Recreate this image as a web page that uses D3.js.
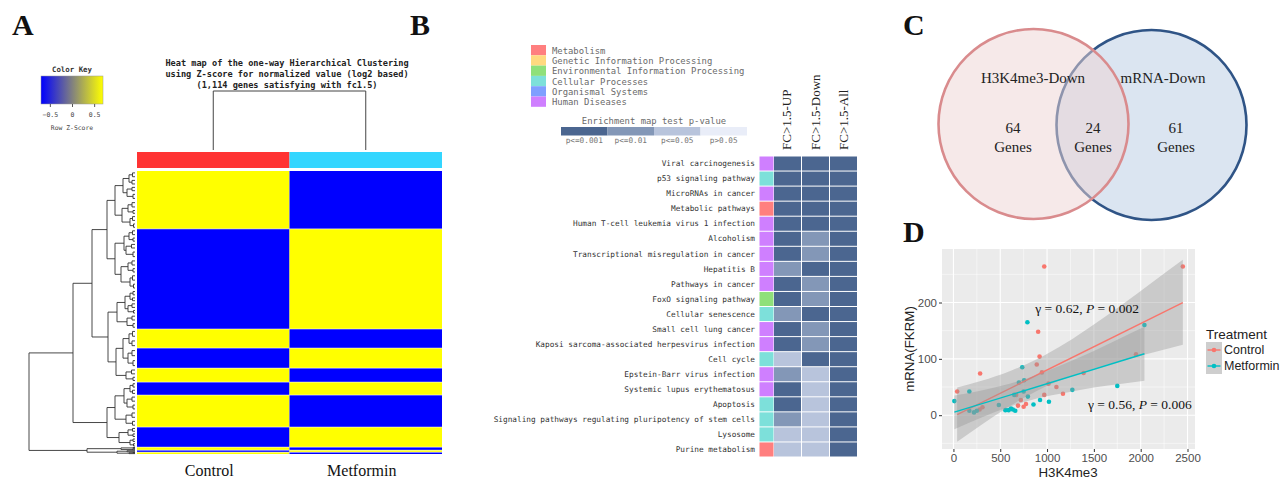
<!DOCTYPE html>
<html lang="en">
<head>
<meta charset="UTF-8">
<title>H3K4me3 / metformin figure</title>
<script src="https://d3js.org/d3.v7.min.js"></script>
<style>
  body { margin: 0; background: #fff; }
  svg { display: block; }
  .mono { font-family: "DejaVu Sans Mono", monospace; }
  .serif { font-family: "Liberation Serif", "Times New Roman", serif; }
  .sans { font-family: "Liberation Sans", Arial, sans-serif; }
  .panel-label { font-family: "Liberation Serif", serif; font-weight: bold; font-size: 30px; fill: #111; }
</style>
</head>
<body>
<svg id="fig" width="1284" height="479"></svg>
<script>
// ---------- A: clustered heatmap ----------
const samples = ["Control", "Metformin"];
const geneBlocks = [228, 394, 75, 79, 55, 51, 126, 79, 12, 8, 7];   // genes per block, top to bottom (1,114 total)
const controlZ   = [0.7, -0.7, 0.7, -0.7, 0.7, -0.7, 0.7, -0.7, 0.7, -0.7, 0.7];
const metforminZ = [-0.7, 0.7, -0.7, 0.7, -0.7, 0.7, -0.7, 0.7, -0.7, 0.7, -0.7];
const keyTicks = [-0.5, 0, 0.5];
const sampleColors = ["#ff3333", "#33d6ff"];
// row dendrogram: [mergeHeight, left, right]; a number is a leaf with that many genes
const rowTree = [106,
  [62,
    [43,
      [28,
        [20,
          [12, [6, [2.5, 15, 15], [3, 14, 14]], [8, [3, 13, 13], [2, 16, 16]]],
          [13, [7, [3, 17, 17], [2, 11, 11]], [5, [2.5, 15, 15], [1.5, 13, 13]]]],
        [20,
          [11, [6, [2.5, 15, 15], [2, 12, 12]], [9, [3.5, 14, 14], [2, 18, 18]]],
          [14, [7, [3, 16, 16], [2, 13, 13]], [5, [2.5, 17, 17], [1.5, 15, 15]]]]],
      [27,
        [18,
          [10, [5, [2, 13, 13], [2.5, 11, 11]], [7, [3, 14, 14], [1.5, 10, 10]]],
          [8, [3, 15, 15], [2, 14, 14]]],
        [19,
          [12, [6, [2.5, 19, 19], [3, 18, 19]], [7, [3, 20, 20], [2, 19, 20]]],
          [9, [3.5, 15, 15], [2, 12, 13]]]]],
    [28,
      [20,
        [11, [5, [2, 13, 13], [2.5, 12, 13]], [8, [3, 16, 16], [2, 15, 15]]],
        [9, [3, 17, 17], [2.5, 15, 15]]],
      [16, [7, [2.5, 11, 11], [2, 10, 10]], [5, [2, 10, 9], [1.5, 9, 9]]]]],
  [48, [14, [2, 3, 3], [2.5, 3, 3]], [18, [8, 4, 4], [6, [2, 2, 2], 3]]]];

// ---------- B: KEGG enrichment ----------
const categories = ["Metabolism", "Genetic Information Processing", "Environmental Information Processing",
  "Cellular Processes", "Organismal Systems", "Human Diseases"];
const categoryColors = ["#ff7f7f", "#ffd97f", "#8fe07a", "#7de0da", "#7f9fff", "#cf7fff"];
const pLevels = ["p<=0.001", "p<=0.01", "p<=0.05", "p>0.05"];
const pColors = ["#4b6690", "#8397b7", "#b8c4dc", "#e9edf8"];
const fcColumns = ["FC>1.5-UP", "FC>1.5-Down", "FC>1.5-All"];
const pathways = ["Viral carcinogenesis", "p53 signaling pathway", "MicroRNAs in cancer", "Metabolic pathways",
  "Human T-cell leukemia virus 1 infection", "Alcoholism", "Transcriptional misregulation in cancer",
  "Hepatitis B", "Pathways in cancer", "FoxO signaling pathway", "Cellular senescence",
  "Small cell lung cancer", "Kaposi sarcoma-associated herpesvirus infection", "Cell cycle",
  "Epstein-Barr virus infection", "Systemic lupus erythematosus", "Apoptosis",
  "Signaling pathways regulating pluripotency of stem cells", "Lysosome", "Purine metabolism"];
const pathwayCategory = [5, 3, 5, 0, 5, 5, 5, 5, 5, 2, 3, 5, 5, 3, 5, 5, 3, 3, 3, 0];
const fcUp   = [0, 0, 0, 0, 0, 0, 0, 1, 0, 0, 1, 0, 0, 2, 1, 0, 0, 1, 2, 2];   // index into pLevels
const fcDown = [0, 0, 0, 0, 0, 1, 1, 0, 1, 1, 0, 1, 1, 0, 2, 2, 2, 2, 2, 2];
const fcAll  = [0, 0, 0, 0, 0, 0, 0, 0, 0, 0, 0, 0, 0, 0, 0, 0, 0, 0, 0, 0];

// ---------- C: Venn ----------
const vennSets = ["H3K4me3-Down", "mRNA-Down"];
const vennCounts = [64, 24, 61];   // left only, both, right only

// ---------- D: scatter ----------
const controlH3 = [970, 2450, 285, 40, 905, 920, 890, 945, 1100, 1170, 970, 1390, 1950, 720, 690, 775, 750, 310, 280, 1015, 670];
const controlRNA = [264, 264, 74, 42, 148, 104, 90, 76, 50, 38, 36, 75, 108, 27, 17, 20, 15, 14, 10, 56, 36];
const metforminH3 = [2040, 790, 735, 700, 755, 10, 170, 1750, 1270, 1020, 925, 855, 795, 750, 485, 555, 590, 615, 635, 660, 170, 220, 250, 650];
const metforminRNA = [160, 165, 85, 58, 62, 25, 42, 52, 45, 24, 27, 19, 33, 42, 18, 9, 9, 12, 10, 8, 8, 5, 8, 36];
const controlFitX = [40, 2450], controlFitY = [1, 200];
const metforminFitX = [10, 2040], metforminFitY = [5.4, 109];
const controlBandX = [40, 300, 600, 900, 1200, 1500, 1800, 2100, 2450];
const controlLow   = [-47, -17, 16, 44, 66, 83, 97, 110, 125];
const controlHigh  = [49, 61, 78, 100, 128, 161, 196, 233, 276];
const metforminBandX = [10, 300, 600, 900, 1200, 1500, 1800, 2040];
const metforminLow   = [-25, -4, 15, 30, 40, 49, 56, 61];
const metforminHigh  = [35, 44, 56, 72, 92, 114, 138, 157];
const treatments = ["Control", "Metformin"];
const treatColors = ["#F8766D", "#00BFC4"];

const svg = d3.select("#fig");

// panel letters
[["A", 12, 35], ["B", 410, 35], ["C", 903, 35], ["D", 903, 242]].forEach(d => {
  svg.append("text").attr("class", "panel-label").attr("x", d[1]).attr("y", d[2]).text(d[0]);
});

// ================= Panel A =================
const gA = svg.append("g");
const zColor = d3.scaleLinear().domain([-0.7, 0.7]).range(["#0000ff", "#ffff00"]).clamp(true);

// color key
const keyX = d3.scaleLinear().domain([-0.7, 0.7]).range([41, 103]);
const grad = svg.append("defs").append("linearGradient").attr("id", "zgrad");
grad.append("stop").attr("offset", "0%").attr("stop-color", zColor(-0.7));
grad.append("stop").attr("offset", "50%").attr("stop-color", zColor(0));
grad.append("stop").attr("offset", "100%").attr("stop-color", zColor(0.7));
gA.append("text").attr("class", "mono").attr("x", 72).attr("y", 72).attr("text-anchor", "middle")
  .attr("font-size", 7.4).attr("font-weight", "bold").attr("fill", "#333").text("Color Key");
gA.append("rect").attr("x", 41).attr("y", 76).attr("width", 62).attr("height", 28)
  .attr("fill", "url(#zgrad)").attr("stroke", "#999").attr("stroke-width", 0.5);
const keyAxis = gA.append("g").attr("transform", "translate(0,104)")
  .call(d3.axisBottom(keyX).tickValues(keyTicks).tickSize(3).tickPadding(5).tickFormat(d3.format("")));
keyAxis.select(".domain").remove();
keyAxis.selectAll("line").attr("stroke", "#555");
keyAxis.selectAll("text").attr("class", "mono").attr("font-size", 6.5).attr("fill", "#444");
gA.append("text").attr("class", "mono").attr("x", 72).attr("y", 130).attr("text-anchor", "middle")
  .attr("font-size", 6.4).attr("fill", "#444").text("Row Z-Score");

// title
["Heat map of the one-way Hierarchical Clustering",
 "using Z-score for normalized value (log2 based)",
 "(1,114 genes satisfying with fc1.5)"].forEach((t, i) => {
  gA.append("text").attr("class", "mono").attr("x", 287).attr("y", 66 + i * 11)
    .attr("text-anchor", "middle").attr("font-size", 8.6).attr("font-weight", "bold").attr("fill", "#222").text(t);
});

const xA = d3.scaleBand().domain(samples).range([137, 442]);
const totalGenes = d3.sum(geneBlocks);
const yA = d3.scaleLinear().domain([0, totalGenes]).range([171, 454]);

// column dendrogram
const colH = d3.scaleLinear().domain([0, 1]).range([150, 91]);
gA.append("path").attr("fill", "none").attr("stroke", "#444").attr("stroke-width", 1)
  .attr("d", `M${xA("Control") + xA.bandwidth() / 2},${colH(0)}V${colH(1)}H${xA("Metformin") + xA.bandwidth() / 2}V${colH(0)}`);

// sample color bar
gA.selectAll(".sbar").data(samples).join("rect")
  .attr("x", d => xA(d)).attr("y", 152).attr("width", xA.bandwidth()).attr("height", 16)
  .attr("fill", (d, i) => sampleColors[i]);

// heatmap cells
const starts = d3.cumsum([0].concat(geneBlocks)).slice(0, geneBlocks.length);
const cells = [];
geneBlocks.forEach((n, i) => {
  cells.push({ s: "Control", start: starts[i], n: n, z: controlZ[i] });
  cells.push({ s: "Metformin", start: starts[i], n: n, z: metforminZ[i] });
});
gA.selectAll(".cell").data(cells).join("rect")
  .attr("x", d => xA(d.s)).attr("width", xA.bandwidth())
  .attr("y", d => yA(d.start)).attr("height", d => yA(d.start + d.n) - yA(d.start))
  .attr("fill", d => zColor(d.z));
gA.selectAll(".sep").data(starts.slice(1)).join("line")
  .attr("x1", 137).attr("x2", 442).attr("y1", d => yA(d)).attr("y2", d => yA(d))
  .attr("stroke", "#ffffff").attr("stroke-opacity", 0.65).attr("stroke-width", 0.8);

// row dendrogram
const dendX = d3.scaleLinear().domain([0, rowTree[0]]).range([135, 29]);
let dpath = "";
function layout(node, start) {
  if (typeof node === "number") return { y: yA(start + node / 2), h: 0, n: node };
  const a = layout(node[1], start);
  const b = layout(node[2], start + a.n);
  const x = dendX(node[0]);
  dpath += `M${dendX(a.h)},${a.y}H${x}V${b.y}H${dendX(b.h)}`;
  return { y: (a.y + b.y) / 2, h: node[0], n: a.n + b.n };
}
layout(rowTree, 0);
gA.append("path").attr("d", dpath).attr("fill", "none").attr("stroke", "#333").attr("stroke-width", 0.9);

gA.selectAll(".slab").data(samples).join("text").attr("class", "serif")
  .attr("x", d => xA(d) + xA.bandwidth() / 2 - 4).attr("y", 476).attr("text-anchor", "middle")
  .attr("font-size", 16).attr("fill", "#111").text(d => d);

// ================= Panel B =================
const gB = svg.append("g");
gB.selectAll(".catbox").data(categories).join("rect")
  .attr("x", 531).attr("y", (d, i) => 45 + i * 10.3).attr("width", 15).attr("height", 10.3)
  .attr("fill", (d, i) => categoryColors[i]);
gB.selectAll(".catlab").data(categories).join("text").attr("class", "mono")
  .attr("x", 552).attr("y", (d, i) => 50.5 + i * 10.3).attr("dy", "0.35em")
  .attr("font-size", 8.9).attr("fill", "#6a6a6a").text(d => d);

gB.append("text").attr("class", "mono").attr("x", 654).attr("y", 121).attr("dy", "0.35em")
  .attr("text-anchor", "middle").attr("font-size", 8.9).attr("fill", "#6a6a6a").text("Enrichment map test p-value");
const xP = d3.scaleBand().domain(pLevels).range([561, 747]);
gB.selectAll(".pbox").data(pLevels).join("rect")
  .attr("x", d => xP(d)).attr("y", 127).attr("width", xP.bandwidth()).attr("height", 8.5)
  .attr("fill", (d, i) => pColors[i]);
gB.selectAll(".plab").data(pLevels).join("text").attr("class", "mono")
  .attr("x", d => xP(d) + xP.bandwidth() / 2).attr("y", 140.5).attr("dy", "0.35em")
  .attr("text-anchor", "middle").attr("font-size", 7.7).attr("fill", "#777").text(d => d);

const yB = d3.scaleBand().domain(pathways).range([156.5, 456.5]).paddingInner(0.067);
const xB = d3.scaleBand().domain(fcColumns).range([774, 857]).paddingInner(0.036);
const fcValues = [fcUp, fcDown, fcAll];

gB.selectAll(".pcat").data(pathways).join("rect")
  .attr("x", 759.5).attr("width", 14).attr("y", d => yB(d)).attr("height", yB.bandwidth())
  .attr("fill", (d, i) => categoryColors[pathwayCategory[i]]);
const fcCells = [];
pathways.forEach((p, i) => fcColumns.forEach((c, j) => fcCells.push({ p: p, c: c, v: fcValues[j][i] })));
gB.selectAll(".fc").data(fcCells).join("rect")
  .attr("x", d => xB(d.c)).attr("width", xB.bandwidth())
  .attr("y", d => yB(d.p)).attr("height", yB.bandwidth())
  .attr("fill", d => pColors[d.v]);
gB.selectAll(".plabel").data(pathways).join("text").attr("class", "mono")
  .attr("x", 755).attr("y", d => yB(d) + yB.bandwidth() / 2).attr("dy", "0.35em")
  .attr("text-anchor", "end").attr("font-size", 7.75).attr("fill", "#333").text(d => d);
gB.selectAll(".colhead").data(fcColumns).join("text").attr("class", "serif")
  .attr("transform", d => `translate(${xB(d) + xB.bandwidth() / 2 + 4},150) rotate(-90)`)
  .attr("font-size", 13).attr("fill", "#222").text(d => d);

// ================= Panel C =================
const gC = svg.append("g");
gC.append("circle").attr("cx", 1151.5).attr("cy", 125).attr("r", 95)
  .attr("fill", "#dbe5f1").attr("stroke", "#2f5486").attr("stroke-width", 2.6);
gC.append("circle").attr("cx", 1033.5).attr("cy", 124).attr("r", 95)
  .attr("fill", "rgb(237,211,211)").attr("fill-opacity", 0.5).attr("stroke", "#d98b8d").attr("stroke-width", 2.6);
[[vennSets[0], 1033, 83], [vennSets[1], 1163, 83]].forEach(d => {
  gC.append("text").attr("class", "serif").attr("x", d[1]).attr("y", d[2]).attr("text-anchor", "middle")
    .attr("font-size", 15).attr("fill", "#222").text(d[0]);
});
[1013, 1093, 1176].forEach((x, i) => {
  gC.append("text").attr("class", "serif").attr("x", x).attr("y", 133).attr("text-anchor", "middle")
    .attr("font-size", 15).attr("fill", "#222").text(vennCounts[i]);
  gC.append("text").attr("class", "serif").attr("x", x).attr("y", 152).attr("text-anchor", "middle")
    .attr("font-size", 15).attr("fill", "#222").text("Genes");
});

// ================= Panel D =================
const gD = svg.append("g");
const xD = d3.scaleLinear().domain([-122, 2580]).range([942, 1195]);
const yD = d3.scaleLinear().domain([-60, 295]).range([449, 249]);
gD.append("rect").attr("x", 942).attr("y", 249).attr("width", 253).attr("height", 200).attr("fill", "#ebebeb");
const xMajor = [0, 500, 1000, 1500, 2000, 2500], xMinor = [250, 750, 1250, 1750, 2250];
const yMajor = [0, 100, 200], yMinor = [-50, 50, 150, 250];
gD.selectAll(".gxm").data(xMinor).join("line").attr("x1", d => xD(d)).attr("x2", d => xD(d))
  .attr("y1", 249).attr("y2", 449).attr("stroke", "#fff").attr("stroke-width", 0.5);
gD.selectAll(".gym").data(yMinor).join("line").attr("y1", d => yD(d)).attr("y2", d => yD(d))
  .attr("x1", 942).attr("x2", 1195).attr("stroke", "#fff").attr("stroke-width", 0.5);
gD.selectAll(".gx").data(xMajor).join("line").attr("x1", d => xD(d)).attr("x2", d => xD(d))
  .attr("y1", 249).attr("y2", 449).attr("stroke", "#fff").attr("stroke-width", 1.1);
gD.selectAll(".gy").data(yMajor).join("line").attr("y1", d => yD(d)).attr("y2", d => yD(d))
  .attr("x1", 942).attr("x2", 1195).attr("stroke", "#fff").attr("stroke-width", 1.1);

const ptsC = controlH3.map((x, i) => ({ x: x, y: controlRNA[i], g: 0 }));
const ptsM = metforminH3.map((x, i) => ({ x: x, y: metforminRNA[i], g: 1 }));
gD.selectAll(".pt").data(ptsC.concat(ptsM)).join("circle")
  .attr("cx", d => xD(d.x)).attr("cy", d => yD(d.y)).attr("r", 2.3)
  .attr("fill", d => treatColors[d.g]);

const area = d3.area().curve(d3.curveMonotoneX).x(d => xD(d.x)).y0(d => yD(d.lo)).y1(d => yD(d.hi));
const line = d3.line().x(d => xD(d[0])).y(d => yD(d[1]));
const bands = [
  { x: controlBandX, lo: controlLow, hi: controlHigh, fx: controlFitX, fy: controlFitY },
  { x: metforminBandX, lo: metforminLow, hi: metforminHigh, fx: metforminFitX, fy: metforminFitY }];
bands.forEach((b, g) => {
  gD.append("path").attr("d", area(b.x.map((x, i) => ({ x: x, lo: b.lo[i], hi: b.hi[i] }))))
    .attr("fill", "#999999").attr("fill-opacity", 0.4);
  gD.append("path").attr("d", line(b.fx.map((x, i) => [x, b.fy[i]])))
    .attr("fill", "none").attr("stroke", treatColors[g]).attr("stroke-width", 1.4);
});

const axX = gD.append("g").attr("transform", "translate(0,449)")
  .call(d3.axisBottom(xD).tickValues(xMajor).tickSize(3).tickPadding(2).tickFormat(d3.format("d")));
const axY = gD.append("g").attr("transform", "translate(942,0)")
  .call(d3.axisLeft(yD).tickValues(yMajor).tickSize(3).tickPadding(2).tickFormat(d3.format("d")));
[axX, axY].forEach(ax => {
  ax.select(".domain").remove();
  ax.selectAll("line").attr("stroke", "#333");
  ax.selectAll("text").attr("class", "sans").attr("font-size", 11.5).attr("fill", "#4d4d4d");
});
gD.append("text").attr("class", "sans").attr("x", 1068).attr("y", 477).attr("text-anchor", "middle")
  .attr("font-size", 13.3).attr("fill", "#222").text("H3K4me3");
gD.append("text").attr("class", "sans").attr("transform", "translate(914,349) rotate(-90)")
  .attr("text-anchor", "middle").attr("font-size", 13.3).attr("fill", "#222").text("mRNA(FKRM)");

function corrText(x, y, r, p) {
  const t = gD.append("text").attr("class", "serif").attr("x", xD(x)).attr("y", yD(y)).attr("dy", "0.35em")
    .attr("text-anchor", "middle").attr("font-size", 13.5).attr("fill", "#111");
  t.append("tspan").text(`\u03b3 = ${r}, `);
  t.append("tspan").attr("font-style", "italic").text("P");
  t.append("tspan").text(` = ${p}`);
}
corrText(1427, 190, "0.62", "0.002");
corrText(1991, 19.6, "0.56", "0.006");

// legend
gD.append("text").attr("class", "sans").attr("x", 1206).attr("y", 339)
  .attr("font-size", 13.5).attr("fill", "#222").text("Treatment");
treatments.forEach((t, i) => {
  const y0 = 342 + i * 16;
  gD.append("rect").attr("x", 1206).attr("y", y0).attr("width", 16).attr("height", 16).attr("fill", "#f2f2f2");
  gD.append("rect").attr("x", 1206).attr("y", y0).attr("width", 16).attr("height", 16)
    .attr("fill", "#999999").attr("fill-opacity", 0.4);
  gD.append("line").attr("x1", 1207.5).attr("x2", 1220.5).attr("y1", y0 + 8).attr("y2", y0 + 8)
    .attr("stroke", treatColors[i]).attr("stroke-width", 1.4);
  gD.append("circle").attr("cx", 1214).attr("cy", y0 + 8).attr("r", 2.3).attr("fill", treatColors[i]);
  gD.append("text").attr("class", "sans").attr("x", 1224).attr("y", y0 + 8).attr("dy", "0.35em")
    .attr("font-size", 12.5).attr("fill", "#222").text(t);
});
</script>
</body>
</html>
